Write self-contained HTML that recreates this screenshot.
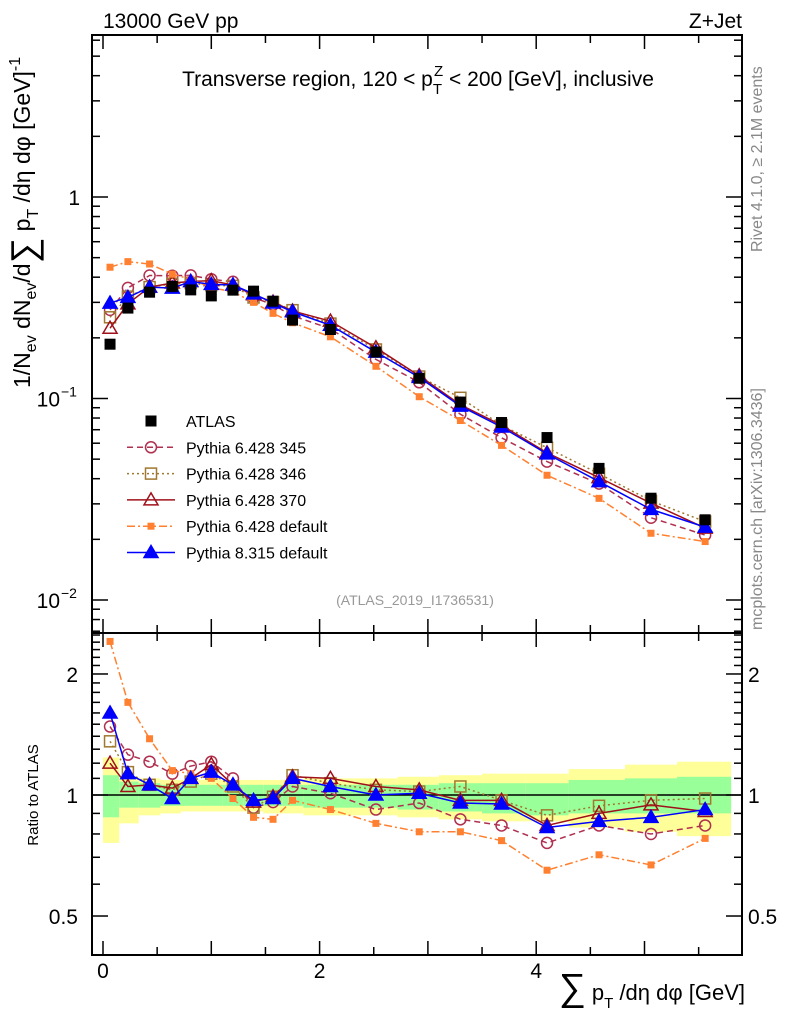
<!DOCTYPE html>
<html><head><meta charset="utf-8"><style>
body{margin:0;background:#fff;}
svg{font-family:"Liberation Sans",sans-serif;}
</style></head><body>
<svg id="c" width="786" height="1024" xmlns="http://www.w3.org/2000/svg">
<defs>
<clipPath id="cm"><rect x="92" y="35" width="650" height="597"/></clipPath>
<clipPath id="cr"><rect x="92" y="633" width="650" height="322"/></clipPath>
</defs>
<g id="bands" clip-path="url(#cr)"></g>
<g id="mainMarks" clip-path="url(#cm)"></g>
<g id="ratioMarks" clip-path="url(#cr)"></g>
<g id="axes"></g>
<text x="103" y="28" font-size="21">13000 GeV pp</text>
<text x="742" y="28" font-size="21" text-anchor="end">Z+Jet</text>
<text x="418" y="86" font-size="21" text-anchor="middle">Transverse region, 120 &lt; p<tspan font-size="15" dy="8">T</tspan><tspan font-size="15" dx="-8" dy="-18">Z</tspan><tspan dy="10"> &lt; 200 [GeV], inclusive</tspan></text>
<text transform="translate(762,252) rotate(-90)" font-size="16" fill="#888">Rivet 4.1.0, ≥ 2.1M events</text>
<text transform="translate(762,630) rotate(-90)" font-size="16" fill="#888">mcplots.cern.ch [arXiv:1306.3436]</text>
<text x="415" y="605" font-size="14" fill="#999" text-anchor="middle">(ATLAS_2019_I1736531)</text>
<text transform="translate(30,388) rotate(-90)" font-size="23">1/N<tspan font-size="16" dy="6">ev</tspan><tspan dy="-6"> dN</tspan><tspan font-size="16" dy="6">ev</tspan><tspan dy="-6">/d</tspan><tspan font-size="36" dy="6">∑</tspan><tspan dy="-6"> p</tspan><tspan font-size="16" dy="8">T</tspan><tspan dy="-8"> /dη dφ  [GeV]</tspan><tspan font-size="16" dy="-10">-1</tspan></text>
<text transform="translate(38,795) rotate(-90)" font-size="15" text-anchor="middle">Ratio to ATLAS</text>
<text x="745" y="1000" font-size="22" text-anchor="end"><tspan font-size="38">∑</tspan> p<tspan font-size="15" dy="8">T</tspan><tspan dy="-8"> /dη dφ [GeV]</tspan></text>
<g id="legend"></g>
</svg>
<script>
const xVals=[0.065,0.23,0.43,0.64,0.81,1.0,1.2,1.39,1.57,1.75,2.1,2.52,2.92,3.3,3.68,4.1,4.58,5.06,5.56];
const binEdges=[0,0.15,0.33,0.53,0.72,0.9,1.1,1.3,1.48,1.66,1.85,2.3,2.72,3.1,3.5,3.9,4.3,4.82,5.3,5.8];
const atlas=[0.186,0.281,0.337,0.36,0.346,0.323,0.345,0.341,0.304,0.245,0.22,0.17,0.126,0.096,0.076,0.064,0.045,0.032,0.025];
const r345=[1.48,1.26,1.21,1.13,1.18,1.21,1.10,0.93,0.96,1.05,1.01,0.92,0.955,0.87,0.84,0.76,0.84,0.80,0.84];
const r346=[1.36,1.14,1.06,1.03,1.08,1.13,1.05,0.93,0.99,1.12,1.07,1.03,1.02,1.05,0.97,0.89,0.94,0.97,0.98];
const r370=[1.20,1.05,1.06,1.04,1.10,1.19,1.06,0.96,0.99,1.11,1.10,1.05,1.03,0.97,0.97,0.84,0.90,0.945,0.91];
const rDef=[2.41,1.70,1.38,1.15,1.13,1.10,0.98,0.88,0.87,0.97,0.92,0.85,0.81,0.81,0.77,0.65,0.71,0.67,0.78];
const r8=[1.60,1.13,1.06,0.98,1.10,1.14,1.06,0.97,0.98,1.10,1.05,1.00,1.01,0.955,0.95,0.83,0.86,0.88,0.92];
const bandYellowHi=[1.24,1.11,1.10,1.09,1.09,1.09,1.09,1.09,1.09,1.09,1.10,1.10,1.11,1.12,1.13,1.13,1.16,1.19,1.21];
const bandYellowLo=[0.76,0.85,0.89,0.90,0.91,0.91,0.91,0.91,0.90,0.90,0.89,0.89,0.88,0.87,0.86,0.86,0.83,0.81,0.79];
const bandGreenHi=[1.12,1.08,1.07,1.06,1.06,1.06,1.06,1.06,1.06,1.06,1.06,1.06,1.06,1.07,1.07,1.07,1.09,1.10,1.11];
const bandGreenLo=[0.88,0.93,0.93,0.94,0.94,0.94,0.94,0.94,0.94,0.94,0.93,0.93,0.92,0.91,0.90,0.89,0.90,0.90,0.90];
const seriesLabels=["ATLAS","Pythia 6.428 345","Pythia 6.428 346","Pythia 6.428 370","Pythia 6.428 default","Pythia 8.315 default"];

const NS="http://www.w3.org/2000/svg";
const R=742;
const X=v=>103+v*108.3;
const YM=v=>197-Math.log10(v)*201.5;
const YR=r=>795-Math.log10(r)*402;
function el(t,a,p){const e=document.createElementNS(NS,t);for(const k in a)e.setAttribute(k,a[k]);p.appendChild(e);return e;}
const bands=document.getElementById('bands'),mm=document.getElementById('mainMarks'),rm=document.getElementById('ratioMarks'),ax=document.getElementById('axes'),lg=document.getElementById('legend');
for(let i=0;i<xVals.length;i++){
  const x0=X(binEdges[i]),x1=X(binEdges[i+1]);
  const y=el('rect',{x:x0,y:YR(bandYellowHi[i]),width:x1-x0,height:YR(bandYellowLo[i])-YR(bandYellowHi[i]),fill:'#ffff99'},bands);
  
  
  const g=el('rect',{x:x0,y:YR(bandGreenHi[i]),width:x1-x0,height:YR(bandGreenLo[i])-YR(bandGreenHi[i]),fill:'#99ff99'},bands);
  
  
}
el('line',{x1:92,x2:R,y1:YR(1),y2:YR(1),stroke:'#000','stroke-width':1.5},rm);
function marker(p,type,col,x,y){
  let e;
  if(type==='sq'||type==='fsq'||type==='osq'){const s=type==='fsq'?7:11;e=el('rect',{x:x-s/2,y:y-s/2,width:s,height:s,fill:type==='osq'?'none':col,stroke:type==='osq'?col:'none','stroke-width':1.5},p);}
  else if(type==='circ'){e=el('circle',{cx:x,cy:y,r:5.5,fill:'none',stroke:col,'stroke-width':1.5},p);}
  else {const s=7;e=el('polygon',{points:`${x},${y-s} ${x-s},${y+5} ${x+s},${y+5}`,fill:type==='ftri'?col:'none',stroke:col,'stroke-width':1.5},p);}
  return e;
}
const series=[
 {name:'pythia-6-345',r:r345,col:'#b03050',dash:'6,4',m:'circ'},
 {name:'pythia-6-346',r:r346,col:'#a07830',dash:'2,3',m:'osq'},
 {name:'pythia-6-370',r:r370,col:'#a0101a',dash:'',m:'tri'},
 {name:'pythia-6-default',r:rDef,col:'#ff8030',dash:'8,3,2,3',m:'fsq'},
 {name:'pythia-8-default',r:r8,col:'#0000ff',dash:'',m:'ftri'}];
series.forEach(s=>{
  const mv=s.r.map((r,i)=>r*atlas[i]);
  const pm=el('polyline',{points:mv.map((v,i)=>X(xVals[i])+','+YM(v)).join(' '),fill:'none',stroke:s.col,'stroke-width':1.5,'stroke-dasharray':s.dash},mm);
  
  
  const pr=el('polyline',{points:s.r.map((v,i)=>X(xVals[i])+','+YR(v)).join(' '),fill:'none',stroke:s.col,'stroke-width':1.5,'stroke-dasharray':s.dash},rm);
  
  
  mv.forEach((v,i)=>{const m=marker(mm,s.m,s.col,X(xVals[i]),YM(v));
    
    });
  s.r.forEach((v,i)=>{const m=marker(rm,s.m,s.col,X(xVals[i]),YR(v));
    
    });
});
atlas.forEach((v,i)=>{const m=marker(mm,'sq','#000',X(xVals[i]),YM(v));
  
  });
el('rect',{x:92,y:35,width:R-92,height:598,fill:'none',stroke:'#000','stroke-width':2},ax);
el('rect',{x:92,y:633,width:R-92,height:322,fill:'none',stroke:'#000','stroke-width':2},ax);
for(let v=0;v<=5.91;v+=0.5){const x=X(v),L=Math.abs(v-Math.round(v))<0.01?14:8;
  [[35,1],[633,-1],[633,1],[955,-1]].forEach(([y,d])=>el('line',{x1:x,x2:x,y1:y,y2:y+d*L,stroke:'#000','stroke-width':1.5},ax));}
[0,2,4].forEach(v=>{const t=el('text',{x:X(v),y:978,'font-size':21,'text-anchor':'middle'},ax);t.textContent=v;
  
  });
for(let d=-3;d<=0;d++)for(let k=1;k<10;k++){const v=k*Math.pow(10,d),y=YM(v);if(y<35||y>632)continue;const L=k===1?16:8;
  el('line',{x1:92,x2:92+L,y1:y,y2:y,stroke:'#000','stroke-width':1.5},ax);el('line',{x1:R,x2:R-L,y1:y,y2:y,stroke:'#000','stroke-width':1.5},ax);}
const yl1=el('text',{x:80,y:YM(1)+8,'font-size':21,'text-anchor':'end'},ax);yl1.textContent='1';


[-1,-2].forEach(d=>{const t=el('text',{x:60,y:YM(Math.pow(10,d))+8,'font-size':21,'text-anchor':'end'},ax);t.textContent='10';
  
  
  const s=el('text',{x:61,y:YM(Math.pow(10,d))-2,'font-size':14},ax);s.textContent=(d===-1?'−1':'−2');});
[0.4,0.5,0.6,0.7,0.8,0.9,1,1.1,1.2,1.3,1.4,1.5,1.6,1.7,1.8,1.9,2,2.1,2.2,2.3,2.4,2.5].forEach(v=>{const y=YR(v);const L=(v===0.5||v===1||v===2)?16:8;
  el('line',{x1:92,x2:92+L,y1:y,y2:y,stroke:'#000','stroke-width':1.5},ax);el('line',{x1:R,x2:R-L,y1:y,y2:y,stroke:'#000','stroke-width':1.5},ax);});
[[2,'2'],[1,'1'],[0.5,'0.5']].forEach(([v,s])=>{
  const t=el('text',{x:78,y:YR(v)+8,'font-size':21,'text-anchor':'end'},ax);t.textContent=s;
  
  
  const t2=el('text',{x:748,y:YR(v)+8,'font-size':21,'text-anchor':'start'},ax);t2.textContent=s;
  
  });
const lcols=['#000','#b03050','#a07830','#a0101a','#ff8030','#0000ff'],lm=['sq','circ','osq','tri','fsq','ftri'],ld=['','6,4','2,3','','8,3,2,3',''];
seriesLabels.forEach((s,i)=>{const y=421+i*26.3;
  const g=el('g',{},lg);
  
  
  if(i>0)el('line',{x1:127,x2:175,y1:y,y2:y,stroke:lcols[i],'stroke-width':1.5,'stroke-dasharray':ld[i]},g);
  marker(g,lm[i],lcols[i],151,y);
  const t=el('text',{x:186,y:y+6,'font-size':16},g);t.textContent=s;});
</script>
</body></html>
